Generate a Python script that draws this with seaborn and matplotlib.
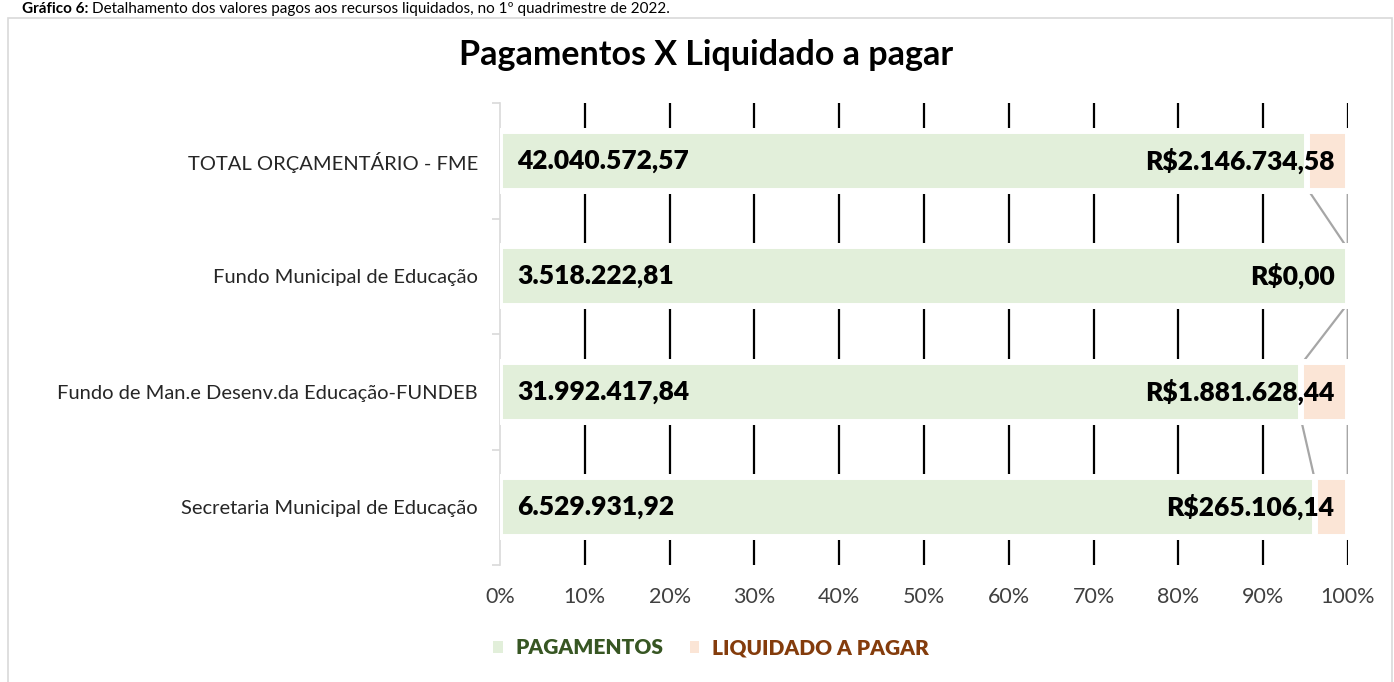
import matplotlib
matplotlib.use("Agg")
import matplotlib.pyplot as plt
from matplotlib.patches import Patch, Rectangle
import numpy as np
import pandas as pd
import seaborn as sns

# categories (top to bottom) and values
categorias = ['TOTAL ORÇAMENTÁRIO - FME', 'Fundo Municipal de Educação',
              'Fundo de Man.e Desenv.da Educação-FUNDEB', 'Secretaria Municipal de Educação']
pagamentos = [42040572.57, 3518222.81, 31992417.84, 6529931.92]
liquidado = [2146734.58, 0.00, 1881628.44, 265106.14]
rotulos_pag = ['42.040.572,57', '3.518.222,81', '31.992.417,84', '6.529.931,92']
rotulos_liq = ['R$2.146.734,58', 'R$0,00', 'R$1.881.628,44', 'R$265.106,14']
ticks_pct = [0, 10, 20, 30, 40, 50, 60, 70, 80, 90, 100]

verde = '#E2EFDA'
laranja = '#FBE5D6'

sns.set_theme(style='white')
plt.rcParams['font.family'] = ['Lato', 'DejaVu Sans']

df = pd.DataFrame({'cat': categorias, 'pag': pagamentos, 'liq': liquidado})
df['total'] = df['pag'] + df['liq']
df['pct_pag'] = df['pag'] / df['total'] * 100
df['pct_tot'] = 100.0

fig = plt.figure(figsize=(13.94, 6.82), dpi=100)
ax = fig.add_axes([500 / 1394, 1 - 565 / 682, 848 / 1394, 462 / 682])

# chart area border
fig.patches.append(Rectangle((8 / 1394, -0.01), 1384 / 1394, 1 - 18 / 682 + 0.01,
                             transform=fig.transFigure, fill=False,
                             edgecolor='#D9D9D9', linewidth=1.2))

# stacked bars: full 100% (orange) then payments share (green) on top
sns.barplot(data=df, x='pct_tot', y='cat', color=laranja, saturation=1,
            width=0.52, edgecolor='white', linewidth=4.3, ax=ax, zorder=3)
sns.barplot(data=df, x='pct_pag', y='cat', color=verde, saturation=1,
            width=0.52, edgecolor='white', linewidth=4.3, ax=ax, zorder=4)

ax.set_xlim(0, 100)
ax.set_ylim(3.5, -0.5)

# black gridlines
for t in ticks_pct[1:]:
    ax.axvline(t, color='black', linewidth=1.6, zorder=1)

# series lines between bars
h = 0.47
for i in range(len(df) - 1):
    ax.plot([df['pct_pag'][i], df['pct_pag'][i + 1]], [i + h / 2, i + 1 - h / 2],
            color='#A6A6A6', linewidth=1.6, zorder=2)
    ax.plot([100, 100], [i + h / 2, i + 1 - h / 2],
            color='#A6A6A6', linewidth=1.6, zorder=2)

# data labels
for i in range(len(df)):
    ax.text(2, i, rotulos_pag[i], ha='left', va='center', fontsize=19,
            fontweight='heavy', color='black', zorder=6)
    ax.text(98.4, i, rotulos_liq[i], ha='right', va='center', fontsize=19,
            fontweight='heavy', color='black', zorder=6)

ax.set_xticks(ticks_pct)
ax.set_xticklabels([f'{t}%' for t in ticks_pct], fontsize=15.5, color='#404040')
ax.tick_params(axis='x', length=0, pad=16)
ax.set_yticks(range(len(categorias)))
ax.set_yticklabels(categorias, fontsize=14.5, color='#262626')
ax.tick_params(axis='y', length=0, pad=16)
ax.set_yticks(np.arange(-0.5, 4, 1), minor=True)
ax.tick_params(axis='y', which='minor', left=True, length=6, color='#D9D9D9', width=1.2)
ax.set_xlabel('')
ax.set_ylabel('')
for s in ['top', 'right', 'bottom']:
    ax.spines[s].set_visible(False)
ax.spines['left'].set_color('#D9D9D9')
ax.spines['left'].set_linewidth(1.2)

fig.text(706 / 1394, 1 - 55 / 682, 'Pagamentos X Liquidado a pagar', ha='center',
         va='center', fontsize=24.5, fontweight='bold', color='black')

# legend
handles = [Patch(facecolor=verde, edgecolor='none', label='PAGAMENTOS'),
           Patch(facecolor=laranja, edgecolor='none', label='LIQUIDADO A PAGAR')]
leg = fig.legend(handles=handles, loc='center', bbox_to_anchor=(711 / 1394, 1 - 648 / 682),
                 ncol=2, frameon=False, handlelength=0.45, handleheight=0.45,
                 handletextpad=0.6, columnspacing=1.3,
                 prop={'weight': 'heavy', 'size': 15})
for txt, c in zip(leg.get_texts(), ['#375623', '#843C0C']):
    txt.set_color(c)

# caption above the chart area
cap1 = fig.text(22 / 1394, 1 - 13 / 682, 'Gráfico 6:', ha='left', va='baseline',
                fontsize=11, fontweight='bold', color='black')
fig.canvas.draw()
bb = cap1.get_window_extent()
fig.text((bb.x1 + 4) / 1394, 1 - 13 / 682,
         'Detalhamento dos valores pagos aos recursos liquidados, no 1º quadrimestre de 2022.',
         ha='left', va='baseline', fontsize=11, color='black')

fig.savefig('out.png', dpi=100)
